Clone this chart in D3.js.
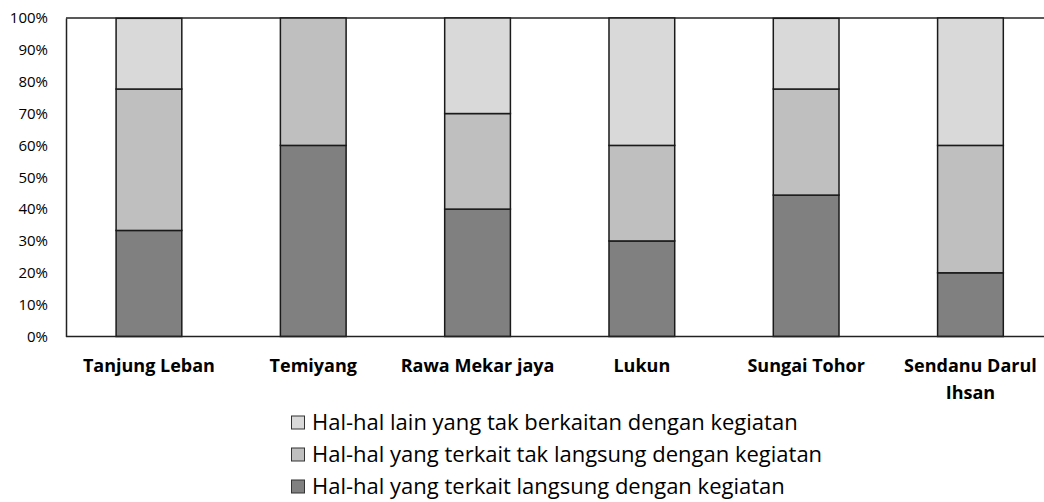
<!DOCTYPE html>
<html>
<head>
<meta charset="utf-8">
<script src="https://cdn.jsdelivr.net/npm/d3@7"></script>
<style>
  body { margin: 0; background: #fff; }
  text { font-family: "Open Sans", Lato, sans-serif; fill: #000; }
</style>
</head>
<body>
<script>
// data (percent of each village)
let villages = ["Tanjung Leban", "Temiyang", "Rawa Mekar jaya", "Lukun", "Sungai Tohor", "Sendanu Darul Ihsan"];
let langsung = [33.3, 60, 40, 30, 44.4, 20];
let takLangsung = [44.4, 40, 30, 30, 33.3, 40];
let lain = [22.2, 0, 30, 40, 22.2, 40];
let seriesNames = [
  "Hal-hal lain yang tak berkaitan dengan kegiatan",
  "Hal-hal yang terkait tak langsung dengan kegiatan",
  "Hal-hal yang terkait langsung dengan kegiatan"
];
let yTicks = [0, 10, 20, 30, 40, 50, 60, 70, 80, 90, 100];

let width = 1044, height = 502;

let svg = d3.select("body").append("svg")
  .attr("width", width)
  .attr("height", height);

// stack bottom -> top
let rows = villages.map(function(v, i){
  return { village: v, langsung: langsung[i], takLangsung: takLangsung[i], lain: lain[i] };
});
let keys = ["langsung", "takLangsung", "lain"];
let colors = { langsung: "#808080", takLangsung: "#bfbfbf", lain: "#d9d9d9" };

let stacked = d3.stack().keys(keys)(rows);

let x = d3.scaleBand()
  .domain(villages)
  .range([66.8, 1052.6])
  .paddingInner(0.6)
  .paddingOuter(0.3);

let y = d3.scaleLinear()
  .domain([0, 100])
  .range([336.5, 18]);

// top border line
svg.append("line")
  .attr("x1", 66).attr("x2", width)
  .attr("y1", y(100)).attr("y2", y(100))
  .attr("stroke", "#222").attr("stroke-width", 1.5);

// y axis
let yAxis = svg.append("g")
  .attr("transform", "translate(66,0)")
  .call(d3.axisLeft(y).tickValues(yTicks).tickSize(0).tickPadding(18).tickFormat(function(d){ return d + "%"; }));
yAxis.select(".domain").attr("stroke", "#222").attr("stroke-width", 1.5);
yAxis.selectAll("text").style("font-size", "15px").attr("font-family", "'Open Sans', sans-serif");

// bars
svg.selectAll("g.layer").data(stacked)
  .enter()
  .append("g")
    .attr("class", "layer")
    .attr("fill", function(d){ return colors[d.key]; })
  .selectAll("rect").data(function(d){ return d; })
  .enter()
    .append("rect")
    .attr("x", function(d){ return x(d.data.village); })
    .attr("width", x.bandwidth())
    .attr("y", function(d){ return y(d[1]); })
    .attr("height", function(d){ return y(d[0]) - y(d[1]); })
    .attr("stroke", "#1a1a1a")
    .attr("stroke-width", 1.5)
    .style("display", function(d){ return d[1] - d[0] > 0 ? null : "none"; });

// x axis line
svg.append("line")
  .attr("x1", 66).attr("x2", width)
  .attr("y1", y(0)).attr("y2", y(0))
  .attr("stroke", "#222").attr("stroke-width", 1.5);

// category labels (wrap the long one)
let catLines = {
  "Sendanu Darul Ihsan": ["Sendanu Darul", "Ihsan"]
};
let cat = svg.selectAll("text.cat").data(villages)
  .enter()
  .append("text")
    .attr("class", "cat")
    .attr("x", function(d){ return x(d) + x.bandwidth() / 2; })
    .attr("y", 372)
    .attr("text-anchor", "middle")
    .style("font-size", "18px")
    .style("font-weight", "bold");
cat.each(function(d){
  let lines = catLines[d] || [d];
  let t = d3.select(this);
  lines.forEach(function(l, i){
    t.append("tspan")
      .attr("x", x(d) + x.bandwidth() / 2)
      .attr("dy", i === 0 ? 0 : 27)
      .text(l);
  });
});

// legend
let legendColors = [colors.lain, colors.takLangsung, colors.langsung];
let legend = svg.selectAll("g.legend").data(seriesNames)
  .enter()
  .append("g")
    .attr("class", "legend")
    .attr("transform", function(d, i){ return "translate(291," + (422 + i * 32) + ")"; });

legend.append("rect")
  .attr("x", 0.5).attr("y", -6)
  .attr("width", 13).attr("height", 13)
  .attr("fill", function(d, i){ return legendColors[i]; })
  .attr("stroke", "#333")
  .attr("stroke-width", 1);

legend.append("text")
  .attr("x", 21)
  .attr("y", 8)
  .style("font-size", "22px")
  .text(function(d){ return d; });
</script>
</body>
</html>
